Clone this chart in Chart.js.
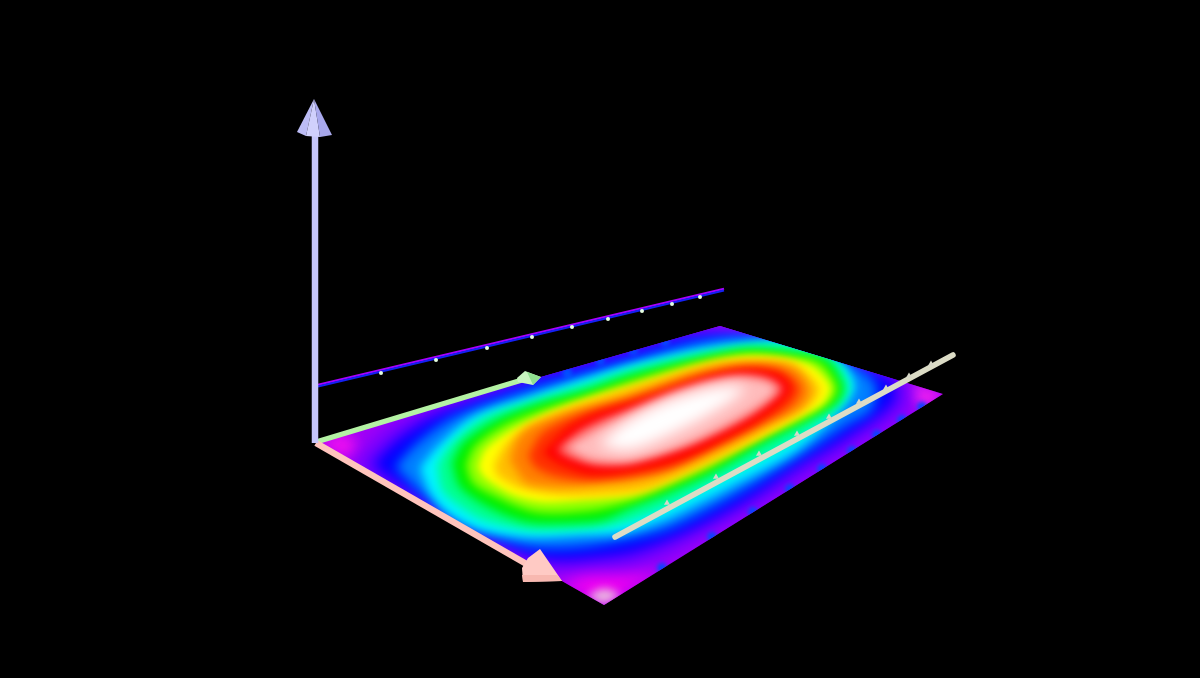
<!DOCTYPE html>
<html><head><meta charset="utf-8">
<style>html,body{margin:0;padding:0;background:#000;overflow:hidden}canvas{display:block}</style>
<script src="https://cdn.jsdelivr.net/npm/chart.js@4"></script>
</head><body><canvas id="c" width="1200" height="678"></canvas>
<script>
// values, in the picture's own plane units
const surface=[[316,441],[720,326],[943,394],[604,605],[316,441]];
const cornerA=[[316,441],[345,434],[358,447],[345,458]];
const cornerB=[[720,326],[690,336],[720,340],[752,336]];
const cornerC=[[943,394],[915,384],[908,396],[925,408]];
const cornerD=[[604,605],[563,583],[585,568],[625,568],[657,570]];
const cornerDLight=[[604,605],[588,596],[604,588],[620,595]];
const contourPurple=[[350,468],[380,433],[420,408],[480,388],[530,372],[620,345],[720,322],[800,340],[880,362],[912,385],[908,412],[855,450],[780,497],[710,535],[640,568],[595,572],[550,572],[510,555],[440,520],[395,498]];
const contourBlue=[[372,465],[397,440],[433,417],[490,395],[537,378],[620,355],[690,336],[740,336],[800,352],[860,368],[893,382],[893,403],[847,437],[797,467],[763,490],[730,510],[680,535],[633,552],[600,557],[557,560],[523,553],[457,520],[415,495]];
const contourAzure=[[395,467],[417,443],[453,417],[510,395],[560,380],[625,362],[695,342],[745,336],[800,345],[845,362],[875,383],[872,409],[847,425],[797,458],[730,498],[670,528],[625,540],[570,548],[525,546],[465,525],[423,495]];
const contourCyan=[[420,468],[437,447],[473,417],[530,397],[557,388],[630,365],[697,350],[747,343],[790,340],[837,358],[855,385],[843,407],[797,450],[730,487],[697,504],[663,520],[620,533],[580,535],[530,537],[480,530],[447,513],[430,493]];
const contourSpring=[[437,465],[450,445],[483,418],[535,400],[590,383],[630,370],[697,354],[747,346],[790,346],[832,359],[849,386],[840,405],[805,433],[763,457],[713,483],[663,508],[615,525],[570,530],[527,530],[483,520],[458,505],[442,490]];
const contourGreen=[[452,463],[463,443],[497,420],[540,403],[587,390],[630,375],[697,358],[747,349],[790,352],[827,360],[843,387],[837,402],[813,417],[763,443],[713,472],[663,495],[630,508],[603,520],[570,523],[527,522],[490,508],[460,487]];
const contourLime=[[466,465],[475,446],[502,426],[540,410],[585,396],[630,381],[697,362],[747,353],[790,356],[820,363],[837,387],[830,402],[805,418],[763,437],[713,466],[663,489],[630,502],[590,511],[535,512],[488,493],[472,482]];
const contourYellow=[[478,467],[485,450],[507,433],[540,417],[580,402],[630,387],[697,367],[747,357],[790,360],[813,367],[830,387],[823,403],[797,418],[763,436],[713,460],[663,483],[630,495],[580,500],[543,502],[513,495],[485,478]];
const contourAmber=[[494,465],[505,445],[525,428],[560,411],[605,395],[665,376],[715,362],[752,360],[790,362],[812,378],[820,390],[810,405],[780,425],[735,450],[690,472],[645,490],[600,495],[560,495],[520,488],[497,475]];
const contourOrange=[[510,460],[517,440],[530,427],[577,410],[630,397],[697,373],[747,363],[793,368],[810,390],[800,408],[763,424],[713,447],[663,472],[630,480],[603,482],[563,487],[527,483],[518,473]];
const contourVermilion=[[528,456],[542,433],[575,416],[625,400],[700,375],[747,367],[782,371],[800,388],[790,406],[760,425],[718,447],[672,468],[630,477],[590,481],[558,477],[536,468]];
const contourRed=[[543,453],[568,428],[597,413],[630,404],[663,394],[713,376],[747,370],[779,374],[791,388],[780,404],[755,422],[723,439],[680,459],[630,471],[590,474],[560,464]];
const contourPink=[[556,450],[580,430],[607,417],[630,409],[697,384],[743,375],[770,379],[783,388],[774,399],[745,419],[697,442],[647,459],[627,464],[597,465],[570,458]];
const contourPale=[[566,448],[595,430],[630,414],[680,392],[730,378],[762,380],[776,389],[760,405],[725,426],[680,447],[630,461],[592,460]];
const contourWhite=[[598,445],[625,423],[663,403],[713,388],[745,388],[725,405],[680,430],[630,450]];
const edgeBlobs=[[662,568],[712,537],[753,512],[790,489],[822,469],[852,451],[877,435],[902,420],[922,407],[665,341],[633,350],[600,360],[567,372]];
const zAxisLine=[[315,443],[315,132]];
const zHeadLeft=[[314,99],[297,132],[306,136]];
const zHeadMid=[[314,99],[306,136],[320,137]];
const zHeadRight=[[314,99],[320,137],[332,135]];
const xAxisLine=[[316,443],[530,566]];
const xHead=[[540,549],[562,581],[523,582],[522,568],[528,558]];
const xHeadLow=[[562,581],[523,582],[522,575],[557,575]];
const yAxisLine=[[316,442],[522,380]];
const yHead=[[517,378],[525,371],[541,377],[533,385],[518,382]];
const yHeadDark=[[527,372],[541,377],[533,385]];
const farLinePurple=[[318,384.7],[724,288.7]];
const farLineBlue=[[318,386.5],[724,290.5]];
const farTicks=[[381,373],[436,360],[487,348],[532,337],[572,327],[608,319],[642,311],[672,304],[700,297]];
const nearLine=[[615,537],[953,355]];
const nearTicks=[[667,503],[716,477],[759,454],[797,434],[829,417],[859,402],[886,388],[909,376],[931,364]];

const pts=a=>a.map(p=>({x:p[0],y:p[1]}));
const closed=a=>pts(a.concat([a[0]]));
const heat=(a,color,blur,tension=0.3)=>({heat:true,blur,data:closed(a),backgroundColor:color,borderColor:color,showLine:true,tension,pointRadius:0});
const poly=(a,color)=>({solid:true,data:closed(a),backgroundColor:color,borderColor:color,showLine:true,tension:0,pointRadius:0,borderWidth:0});
const line=(a,color,w,cap='butt')=>({data:pts(a),borderColor:color,borderWidth:w,borderCapStyle:cap,showLine:true,pointRadius:0,tension:0});
const dots=(a,color,r,style='circle')=>({data:pts(a),showLine:false,pointRadius:r,pointStyle:style,backgroundColor:color,borderColor:color,borderWidth:0});

const list=[
 Object.assign(poly(surface,'#a400f6'),{isSurface:true}),
 heat(cornerA,'#f010f0',7,0.2),
 heat(cornerB,'#f020f0',6,0.2),
 heat(cornerC,'#f020f0',6,0.2),
 heat(cornerD,'#f800f0',9,0.2),
 heat(cornerDLight,'#e8b0e0',4,0.2),
 heat(contourPurple,'#7000ff',9),
 heat(contourBlue,'#0000ff',7),
 Object.assign(dots(edgeBlobs,'#0048ff',5),{blob:true,blur:2}),
 heat(contourAzure,'#0080ff',6),
 heat(contourCyan,'#00f4ff',5),
 heat(contourSpring,'#00ff90',5),
 heat(contourGreen,'#00f000',5),
 heat(contourLime,'#90ff00',4),
 heat(contourYellow,'#ffff00',3.5),
 heat(contourAmber,'#ffbe00',5),
 heat(contourOrange,'#ff8000',5),
 heat(contourVermilion,'#ff3000',5),
 heat(contourRed,'#ff0000',4),
 heat(contourPink,'#ff6464',4),
 heat(contourPale,'#ffbcbc',5),
 heat(contourWhite,'#ffffff',7),
 line(farLinePurple,'#a800ff',2),
 line(farLineBlue,'#1420f4',2),
 dots(farTicks,'#e6ffe0',2),
 line(yAxisLine,'#b4f2a4',5),
 poly(yHead,'#c8f5c0'),
 poly(yHeadDark,'#90e090'),
 line(xAxisLine,'#ffc4bc',6.5),
 poly(xHead,'#ffcac4'),
 poly(xHeadLow,'#f8b8b0'),
 line(zAxisLine,'#c6c6fa',6.5),
 poly(zHeadLeft,'#bcbcf5'),
 poly(zHeadMid,'#d0d0fc'),
 poly(zHeadRight,'#a8a8ec'),
 line(nearLine,'#dcdcc6',5.5,'round'),
 dots(nearTicks,'#d8d8c8',3.5,'triangle')
];
list.forEach((d,i)=>{d.order=-i;});

const heatPlugin={id:'heatPlugin',
 beforeDatasetDraw(chart,args){
  const ds=chart.data.datasets[args.index];
  const ctx=chart.ctx;
  if(!(ds.heat||ds.solid||ds.blob))return;
  const surf=chart.getDatasetMeta(0).data;
  ctx.save();
  if(ds.heat||ds.blob){
   ctx.beginPath();
   surf.forEach((p,i)=>i?ctx.lineTo(p.x,p.y):ctx.moveTo(p.x,p.y));
   ctx.closePath();ctx.clip();
   ctx.filter='blur('+ds.blur+'px)';
  }
  if(ds.blob)return;
  ctx.beginPath();
  args.meta.dataset.path(ctx);
  ctx.closePath();
  ctx.fillStyle=ds.backgroundColor;
  ctx.fill();
  ctx.restore();
  return false;
 },
 afterDatasetDraw(chart,args){
  const ds=chart.data.datasets[args.index];
  if(ds.blob)chart.ctx.restore();
 }
};

new Chart(document.getElementById('c'),{
 type:'scatter',
 data:{datasets:list},
 plugins:[heatPlugin],
 options:{responsive:false,animation:false,events:[],
  layout:{padding:0,autoPadding:false},
  plugins:{legend:{display:false},tooltip:{enabled:false},title:{display:false}},
  scales:{
   x:{type:'linear',display:false,min:0,max:1200},
   y:{type:'linear',display:false,min:0,max:678,reverse:true}
  }
 }
});
</script></body></html>
